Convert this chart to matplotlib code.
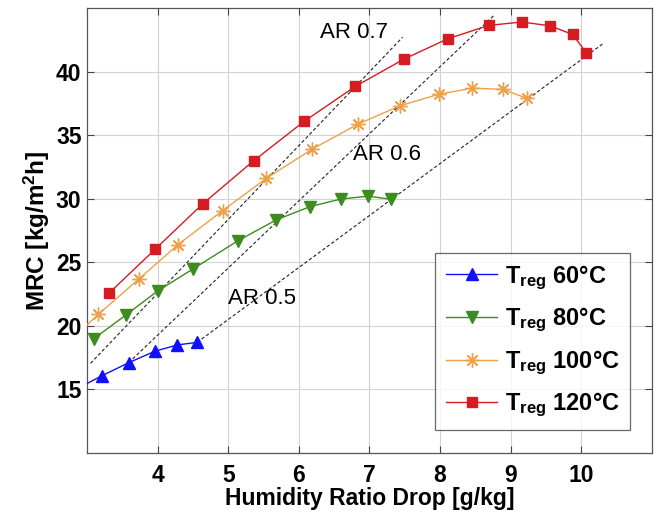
import matplotlib
matplotlib.use("Agg")
import matplotlib.pyplot as plt

plt.rcParams['font.family'] = ['Liberation Sans', 'DejaVu Sans']
plt.rcParams['mathtext.fontset'] = 'custom'
plt.rcParams['mathtext.rm'] = 'Liberation Sans:bold'
plt.rcParams['mathtext.bf'] = 'Liberation Sans:bold'
plt.rcParams['mathtext.it'] = 'Liberation Sans:bold'

# ---- data ----
x60 = [2.7, 3.21, 3.59, 3.96, 4.28, 4.56]
y60 = [14.6, 16.07, 17.1, 18.0, 18.5, 18.7]

x80 = [3.10, 3.55, 4.00, 4.50, 5.14, 5.68, 6.16, 6.60, 6.98, 7.31]
y80 = [19.0, 20.85, 22.74, 24.47, 26.7, 28.33, 29.38, 29.98, 30.2, 29.96]

x100 = [2.6, 3.16, 3.73, 4.29, 4.92, 5.54, 6.19, 6.84, 7.43, 7.99, 8.46, 8.89, 9.23]
y100 = [18.0, 20.9, 23.66, 26.39, 29.06, 31.6, 33.9, 35.87, 37.3, 38.23, 38.7, 38.6, 37.9]

x120 = [3.31, 3.97, 4.64, 5.36, 6.08, 6.80, 7.49, 8.11, 8.69, 9.16, 9.56, 9.88, 10.07]
y120 = [22.56, 26.05, 29.6, 32.98, 36.1, 38.83, 40.98, 42.58, 43.63, 43.9, 43.6, 42.92, 41.5]

# AR reference lines (start, end)
ar_labels = ['AR 0.7', 'AR 0.6', 'AR 0.5']
ar_x = [[3.05, 7.47], [3.59, 8.78], [4.56, 10.31]]
ar_y = [[17.05, 42.7], [17.1, 44.5], [18.7, 42.2]]
ar_text_x = [6.30, 6.77, 5.00]
ar_text_y = [43.06, 33.45, 22.17]

series_labels = [r'$\mathbf{T_{reg}}$ 60°C', r'$\mathbf{T_{reg}}$ 80°C',
                 r'$\mathbf{T_{reg}}$ 100°C', r'$\mathbf{T_{reg}}$ 120°C']

xticks = [4, 5, 6, 7, 8, 9, 10]
yticks = [15, 20, 25, 30, 35, 40]

# ---- figure ----
fig = plt.figure(figsize=(6.61, 5.14), dpi=100)
ax = fig.add_axes([0.1316, 0.1187, 0.8544, 0.8657])

blue = '#1010ff'
green = '#3c8c1e'
orange = '#f0a048'
red = '#d41c22'

ax.plot(x60, y60, color=blue, lw=1.0, marker='^', ms=8.5, mfc=blue, mec=blue, label=series_labels[0], zorder=4)
ax.plot(x80, y80, color=green, lw=1.0, marker='v', ms=9, mfc=green, mec=green, label=series_labels[1], zorder=4)
ax.plot(x100, y100, color=orange, lw=1.0, marker=(8, 2, 0), ms=10, mec=orange, mew=1.0, label=series_labels[2], zorder=4)
ax.plot(x120, y120, color=red, lw=1.0, marker='s', ms=7.5, mfc=red, mec=red, label=series_labels[3], zorder=4)

for xs, ys in zip(ar_x, ar_y):
    ax.plot(xs, ys, color='#222222', lw=0.8, ls=(0, (3, 2)), zorder=3)
for t, tx, ty in zip(ar_labels, ar_text_x, ar_text_y):
    ax.text(tx, ty, t, fontsize=16, ha='left', va='center', color='black', zorder=5)

ax.set_xlim(3, 11)
ax.set_ylim(10, 45)
ax.set_xticks(xticks)
ax.set_yticks(yticks)
ax.grid(True, color='#d2d2d2', lw=0.8, ls='-')
ax.set_axisbelow(True)
ax.tick_params(direction='in', top=True, right=True, length=5, width=0.8,
               labelsize=16.5, color='#444444')
ax.tick_params(axis='x', pad=8)
ax.tick_params(axis='y', pad=4)
for lab in ax.get_xticklabels() + ax.get_yticklabels():
    lab.set_fontweight('bold')
for s in ax.spines.values():
    s.set_color('#555555')
    s.set_linewidth(0.9)

ax.set_xlabel('Humidity Ratio Drop [g/kg]', fontsize=16.5, fontweight='bold', labelpad=0)
ax.set_ylabel(r'MRC [kg/m$^{2}$h]', fontsize=17.5, fontweight='bold', labelpad=3)

leg = ax.legend(loc='lower right', bbox_to_anchor=(0.9616, 0.0517), borderaxespad=0,
                prop={'weight': 'bold', 'size': 17}, frameon=True, fancybox=False,
                edgecolor='#444444', handlelength=2.2, labelspacing=0.6,
                borderpad=0.45, handletextpad=0.3)
leg.get_frame().set_linewidth(0.9)

fig.savefig('out.png', dpi=100)
